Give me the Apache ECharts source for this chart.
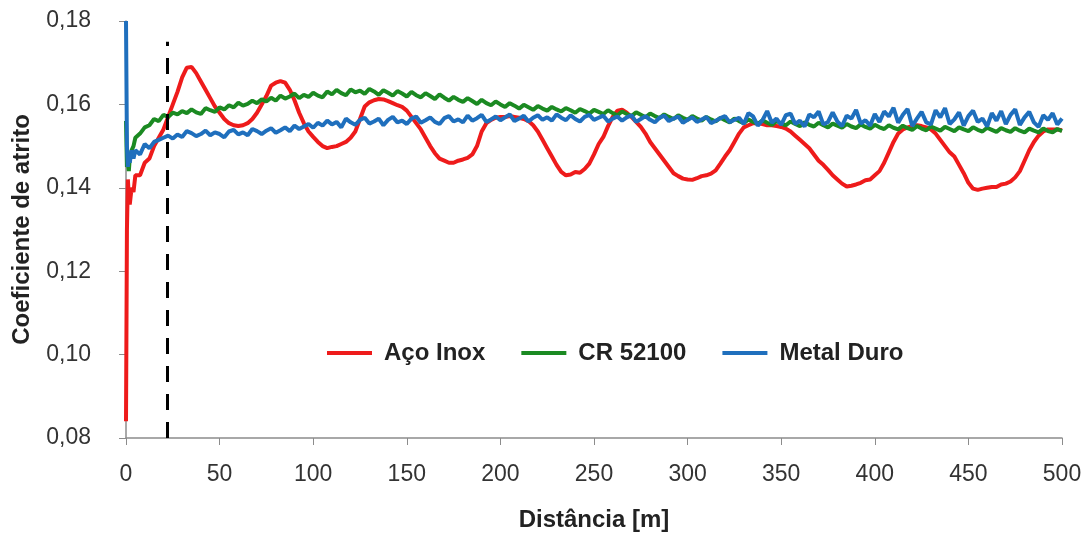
<!DOCTYPE html>
<html>
<head>
<meta charset="utf-8">
<title>Coeficiente de atrito</title>
<script src="https://cdn.jsdelivr.net/npm/echarts@6/dist/echarts.min.js"></script>
<style>
  html, body { margin: 0; padding: 0; background: #fff; }
  #chart { width: 1091px; height: 533px; }
</style>
</head>
<body>
<div id="chart"></div>
<script>
// distance [m]
const distance = [
  0, 0.5, 1, 1.5, 2, 3, 4, 5,
  7.5, 10, 12.5, 15, 17.5, 20, 22.5, 25,
  27.5, 30, 32.5, 35, 37.5, 40, 42.5, 45, 47.5, 50,
  52.5, 55, 57.5, 60, 62.5, 65, 67.5, 70, 72.5, 75,
  77.5, 80, 82.5, 85, 87.5, 90, 92.5, 95, 97.5, 100,
  102.5, 105, 107.5, 110, 112.5, 115, 117.5, 120, 122.5, 125,
  127.5, 130, 132.5, 135, 137.5, 140, 142.5, 145, 147.5, 150,
  152.5, 155, 157.5, 160, 162.5, 165, 167.5, 170, 172.5, 175,
  177.5, 180, 182.5, 185, 187.5, 190, 192.5, 195, 197.5, 200,
  202.5, 205, 207.5, 210, 212.5, 215, 217.5, 220, 222.5, 225,
  227.5, 230, 232.5, 235, 237.5, 240, 242.5, 245, 247.5, 250,
  252.5, 255, 257.5, 260, 262.5, 265, 267.5, 270, 272.5, 275,
  277.5, 280, 282.5, 285, 287.5, 290, 292.5, 295, 297.5, 300,
  302.5, 305, 307.5, 310, 312.5, 315, 317.5, 320, 322.5, 325,
  327.5, 330, 332.5, 335, 337.5, 340, 342.5, 345, 347.5, 350,
  352.5, 355, 357.5, 360, 362.5, 365, 367.5, 370, 372.5, 375,
  377.5, 380, 382.5, 385, 387.5, 390, 392.5, 395, 397.5, 400,
  402.5, 405, 407.5, 410, 412.5, 415, 417.5, 420, 422.5, 425,
  427.5, 430, 432.5, 435, 437.5, 440, 442.5, 445, 447.5, 450,
  452.5, 455, 457.5, 460, 462.5, 465, 467.5, 470, 472.5, 475,
  477.5, 480, 482.5, 485, 487.5, 490, 492.5, 495, 497.5, 500
];

const acoInox = [
  0.084, 0.130, 0.142, 0.138, 0.136, 0.140, 0.139, 0.143,
  0.143, 0.146, 0.147, 0.150, 0.152, 0.154, 0.157, 0.160,
  0.163, 0.1665, 0.1688, 0.169, 0.1675, 0.1655, 0.1635, 0.1615, 0.1595, 0.158,
  0.1565, 0.1555, 0.155, 0.1548, 0.155, 0.1555, 0.1565, 0.158, 0.160, 0.162,
  0.1645, 0.1652, 0.1656, 0.1652, 0.1635, 0.161, 0.158, 0.1555, 0.1535, 0.1522,
  0.151, 0.150, 0.1495, 0.1498, 0.150, 0.1505, 0.151, 0.152, 0.1535, 0.1565,
  0.1595, 0.1605, 0.161, 0.1613, 0.1612, 0.1608, 0.1603, 0.1598, 0.1594, 0.1585,
  0.157, 0.1555, 0.154, 0.152, 0.150, 0.1483, 0.147, 0.1465, 0.146, 0.146,
  0.1465, 0.1468, 0.1472, 0.148, 0.150, 0.1535, 0.1555, 0.1563, 0.1568, 0.157,
  0.157, 0.1572, 0.157, 0.1568, 0.1565, 0.156, 0.155, 0.1535, 0.1515, 0.1495,
  0.1475, 0.1455, 0.1438, 0.143, 0.1432, 0.1438, 0.1436, 0.1445, 0.1458, 0.148,
  0.1505, 0.1522, 0.1548, 0.157, 0.1585, 0.1587, 0.158, 0.157, 0.1558, 0.1546,
  0.153, 0.151, 0.1495, 0.148, 0.1465, 0.145, 0.1435, 0.1428, 0.1422, 0.142,
  0.1419, 0.1423, 0.1428, 0.143, 0.1434, 0.1442, 0.1458, 0.1475, 0.149, 0.151,
  0.153, 0.1545, 0.155, 0.1555, 0.1555, 0.1553, 0.155, 0.155, 0.1548, 0.1546,
  0.1542, 0.1535, 0.1525, 0.1515, 0.1505, 0.1495, 0.148, 0.1465, 0.1455, 0.1443,
  0.143, 0.142, 0.141, 0.1403, 0.1405, 0.1408, 0.1412, 0.1418, 0.142, 0.143,
  0.144, 0.146, 0.1485, 0.151, 0.153, 0.154, 0.1545, 0.1548, 0.155, 0.1548,
  0.1545, 0.154, 0.153, 0.1515, 0.150, 0.1485, 0.1475, 0.1455, 0.1435, 0.1412,
  0.1398, 0.1395, 0.1398, 0.140, 0.1402, 0.1402, 0.1408, 0.141, 0.1415, 0.1425,
  0.144, 0.1465, 0.149, 0.151, 0.1525, 0.1535, 0.154, 0.154, 0.154, 0.1538
];

const cr52100 = [
  0.156, 0.145, 0.146, 0.144, 0.147, 0.149, 0.150, 0.152,
  0.153, 0.1545, 0.155, 0.1565, 0.156, 0.1575, 0.157, 0.158,
  0.1576, 0.1584, 0.1579, 0.1588, 0.1581, 0.1577, 0.1591, 0.1586, 0.1582, 0.1593,
  0.1588, 0.1598, 0.1593, 0.1604, 0.1597, 0.1601, 0.1609, 0.1603, 0.1612, 0.1607,
  0.1616, 0.1609, 0.1621, 0.1614, 0.1619, 0.1626, 0.1615, 0.1623, 0.1618, 0.1628,
  0.1621, 0.1617, 0.1631, 0.1624, 0.1635, 0.1627, 0.1622, 0.1636, 0.1629, 0.1633,
  0.1625, 0.1637, 0.1631, 0.1623, 0.1634, 0.1628, 0.1621, 0.1632, 0.1626, 0.1619,
  0.163, 0.1622, 0.1617, 0.1627, 0.162, 0.1613, 0.1624, 0.1616, 0.1609, 0.1618,
  0.1611, 0.1606, 0.1615, 0.1608, 0.1601, 0.1611, 0.1603, 0.1598, 0.1607, 0.16,
  0.1594, 0.1603, 0.1597, 0.159, 0.1599, 0.1593, 0.1587, 0.1596, 0.159, 0.1585,
  0.1594, 0.1588, 0.1583, 0.1591, 0.1586, 0.158, 0.1589, 0.1584, 0.1578, 0.1587,
  0.1582, 0.1577, 0.1586, 0.1579, 0.1574, 0.1583, 0.1577, 0.1572, 0.1581, 0.1575,
  0.1569, 0.1578, 0.1572, 0.1567, 0.1576, 0.157, 0.1565, 0.1574, 0.1568, 0.1563,
  0.1572, 0.1566, 0.1561, 0.157, 0.1564, 0.1559, 0.1568, 0.1562, 0.1557, 0.1566,
  0.156, 0.1555, 0.1564, 0.1558, 0.1553, 0.1562, 0.1556, 0.1551, 0.156, 0.1554,
  0.155, 0.1559, 0.1553, 0.1548, 0.1557, 0.1551, 0.1547, 0.1556, 0.155, 0.1545,
  0.1554, 0.1549, 0.1544, 0.1553, 0.1547, 0.1543, 0.1552, 0.1546, 0.1542, 0.1551,
  0.1545, 0.1541, 0.155, 0.1544, 0.154, 0.1549, 0.1543, 0.1539, 0.1548, 0.1542,
  0.1538, 0.1547, 0.1542, 0.1537, 0.1546, 0.1541, 0.1536, 0.1545, 0.154, 0.1536,
  0.1545, 0.1539, 0.1535, 0.1544, 0.1539, 0.1534, 0.1543, 0.1538, 0.1534, 0.1543,
  0.1537, 0.1533, 0.1542, 0.1537, 0.1533, 0.1542, 0.1536, 0.1533, 0.1541, 0.1536
];

const metalDuro = [
  0.180, 0.150, 0.145, 0.148, 0.146, 0.149, 0.147, 0.149,
  0.148, 0.1505, 0.1495, 0.151, 0.1515, 0.152, 0.1525, 0.1518,
  0.1528, 0.1522, 0.1536, 0.1531, 0.1524, 0.1529, 0.1537, 0.1526, 0.1533, 0.1529,
  0.1521, 0.1535, 0.1539, 0.1528, 0.1533, 0.1526, 0.1541, 0.1536, 0.1529, 0.1537,
  0.1543, 0.1532, 0.1538, 0.1545, 0.1536, 0.1549, 0.1541, 0.1547, 0.1553, 0.1544,
  0.1556, 0.1549, 0.1561, 0.1552, 0.1558, 0.1545, 0.1566, 0.1557, 0.1551, 0.1563,
  0.1568, 0.1554, 0.1559, 0.1566, 0.155, 0.1563, 0.157, 0.1557, 0.1561, 0.1553,
  0.1566, 0.1571, 0.1556, 0.1562, 0.1569, 0.1558, 0.1553, 0.1567, 0.1572, 0.1559,
  0.1564, 0.1557, 0.1573, 0.1561, 0.1567, 0.1575, 0.1558, 0.1564, 0.1571, 0.1562,
  0.1569, 0.1576, 0.156, 0.1566, 0.1573, 0.1559, 0.1568, 0.1574, 0.1563, 0.1569,
  0.1561, 0.1576, 0.1568, 0.1562, 0.1574, 0.1565, 0.1559, 0.157, 0.1575, 0.1563,
  0.1568, 0.1573, 0.1559, 0.1566, 0.1571, 0.1561, 0.1569, 0.1574, 0.1558, 0.1565,
  0.1572, 0.1563, 0.1557, 0.1568, 0.1573, 0.156, 0.1566, 0.1571, 0.1556, 0.1563,
  0.1569, 0.1558, 0.1564, 0.157, 0.1555, 0.1561, 0.1567, 0.1572, 0.1557, 0.1563,
  0.1568, 0.1553, 0.1579, 0.1571, 0.1549, 0.1562, 0.1584, 0.1556, 0.1566, 0.1551,
  0.1574, 0.1578, 0.1553, 0.1561, 0.1547, 0.1576, 0.1569, 0.1583, 0.1552, 0.1558,
  0.1581, 0.1559, 0.1548, 0.1573, 0.1566, 0.1587, 0.1554, 0.1562, 0.1549, 0.1577,
  0.1558, 0.1583, 0.1571, 0.1592, 0.1556, 0.1575, 0.1589, 0.1548, 0.1566, 0.1582,
  0.1557, 0.1552, 0.1586, 0.1569, 0.1591, 0.1553, 0.1564, 0.1581, 0.1549, 0.1572,
  0.1585, 0.1558, 0.1566, 0.1547, 0.1579, 0.1561, 0.1584, 0.1553, 0.1575, 0.1588,
  0.1551, 0.1569, 0.1582, 0.1557, 0.1546, 0.1574, 0.1563, 0.1579, 0.1552, 0.1566
];

const yTicks = { min: 0.08, max: 0.18, step: 0.02 };
const xTicks = { min: 0, max: 500, step: 50 };
const runInEnd = 22; // dashed line, end of running-in

function pairs(values) {
  return distance.map((d, i) => [d, values[i]]);
}

const font = '"Liberation Sans", "DejaVu Sans", sans-serif';
const chart = echarts.init(document.getElementById('chart'));

function line(name, values, color) {
  return {
    name: name,
    type: 'line',
    data: pairs(values),
    showSymbol: false,
    lineStyle: { color: color, width: 4 },
    itemStyle: { color: color },
    emphasis: { disabled: true }
  };
}

const series = [
  line('Aço Inox', acoInox, '#ee1b1b'),
  line('CR 52100', cr52100, '#1b8a22'),
  line('Metal Duro', metalDuro, '#1f6fbd')
];

series[0].markLine = {
  silent: true,
  symbol: 'none',
  label: { show: false },
  lineStyle: { color: '#000', width: 3, type: [16, 12] },
  data: [[{ coord: [runInEnd, 0.08] }, { coord: [runInEnd, 0.175] }]]
};

chart.setOption({
  animation: false,
  backgroundColor: '#fff',
  grid: { left: 126, right: 29, top: 21, bottom: 95, outerBoundsMode: 'none' },
  legend: {
    left: 322,
    top: 336,
    icon: 'rect',
    itemWidth: 45,
    itemHeight: 4,
    itemGap: 36,
    textStyle: {
      fontFamily: font, fontSize: 24, fontWeight: 'bold', color: '#222',
      padding: [0, 0, 0, 7]
    },
    data: ['Aço Inox', 'CR 52100', 'Metal Duro']
  },
  xAxis: {
    type: 'value',
    min: xTicks.min,
    max: xTicks.max,
    interval: xTicks.step,
    name: 'Distância [m]',
    nameLocation: 'middle',
    nameGap: 70,
    nameTextStyle: { fontFamily: font, fontSize: 24, fontWeight: 'bold', color: '#222' },
    axisLine: { lineStyle: { color: '#8c8c8c', width: 1.5 } },
    axisTick: { show: true, length: 7, lineStyle: { color: '#8c8c8c' } },
    axisLabel: { fontFamily: font, fontSize: 23, color: '#333', margin: 25 },
    splitLine: { show: false }
  },
  yAxis: {
    type: 'value',
    min: yTicks.min,
    max: yTicks.max,
    interval: yTicks.step,
    name: 'Coeficiente de atrito',
    nameLocation: 'middle',
    nameGap: 92,
    nameTextStyle: { fontFamily: font, fontSize: 24, fontWeight: 'bold', color: '#222' },
    axisLine: { show: true, lineStyle: { color: '#8c8c8c', width: 1.5 } },
    axisTick: { show: true, length: 7, lineStyle: { color: '#8c8c8c' } },
    axisLabel: {
      fontFamily: font, fontSize: 23, color: '#333', margin: 35,
      formatter: v => v.toFixed(2).replace('.', ',')
    },
    splitLine: { show: false }
  },
  series: series
});
</script>
</body>
</html>
